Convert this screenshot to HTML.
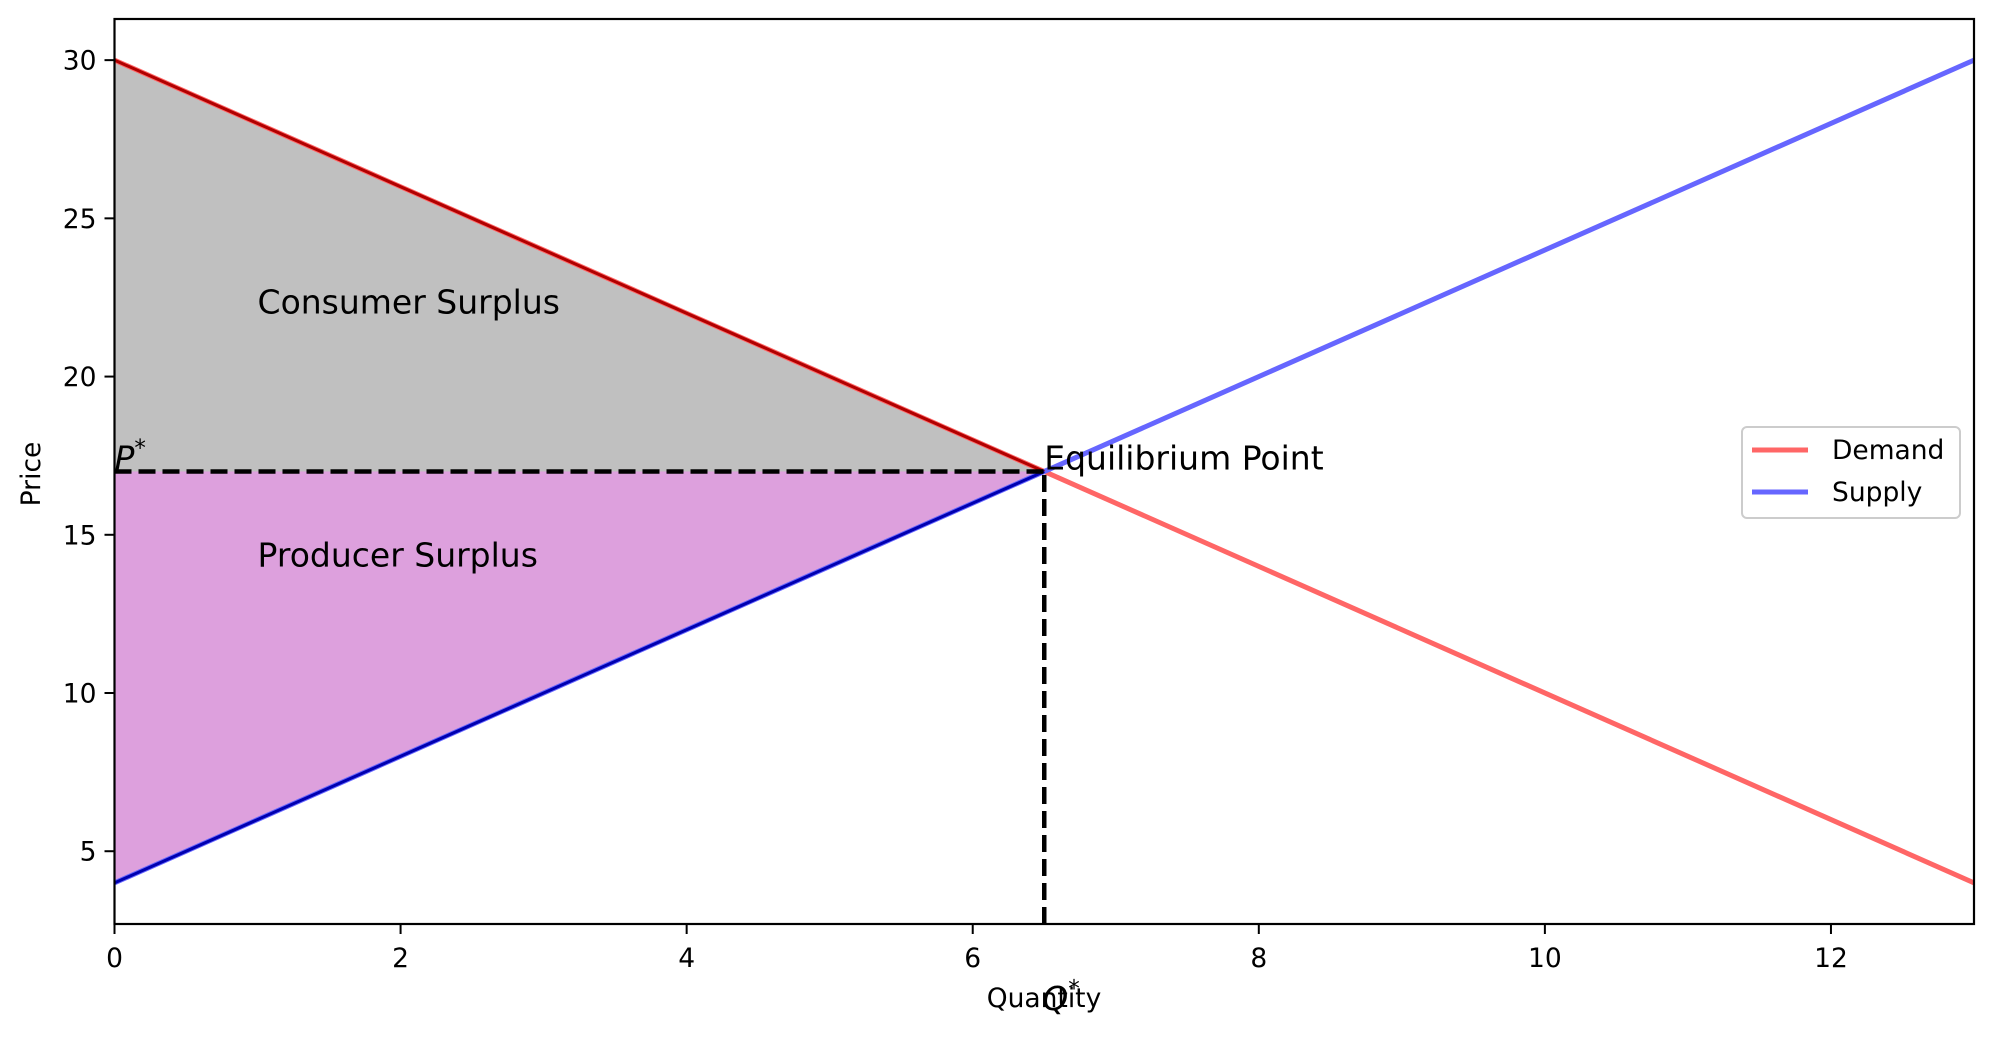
<!DOCTYPE html>
<html><head><meta charset="utf-8"><style>
body{margin:0;background:#fff}
svg{display:block;font-family:"DejaVu Sans","Liberation Sans",sans-serif}
</style></head><body>
<svg id="chart" width="1994" height="1039" xmlns="http://www.w3.org/2000/svg"></svg>
<script>
const qRange=[0,13];
const pRange=[2.7,31.3];
const demandPts=[[0,30],[13,4]];
const supplyPts=[[0,4],[13,30]];
const eqQ=6.5, eqP=17;
const xTicks=[0,2,4,6,8,10,12];
const yTicks=[5,10,15,20,25,30];
const L=114.5,R=1974,T=19,B=924;
const X=q=>L+(q-qRange[0])/(qRange[1]-qRange[0])*(R-L);
const Y=p=>B-(p-pRange[0])/(pRange[1]-pRange[0])*(B-T);
const NS='http://www.w3.org/2000/svg';
const svg=document.getElementById('chart');
function mk(tag,attrs,name,parent){const e=document.createElementNS(NS,tag);for(const k in attrs)e.setAttribute(k,attrs[k]);


(parent||svg).appendChild(e);return e;}
const dAt=q=>demandPts[0][1]+(demandPts[1][1]-demandPts[0][1])*(q-demandPts[0][0])/(demandPts[1][0]-demandPts[0][0]);
const sAt=q=>supplyPts[0][1]+(supplyPts[1][1]-supplyPts[0][1])*(q-supplyPts[0][0])/(supplyPts[1][0]-supplyPts[0][0]);
mk('polygon',{points:`${X(0)},${Y(dAt(0))} ${X(eqQ)},${Y(eqP)} ${X(0)},${Y(eqP)}`,fill:'#c0c0c0'},'consumer-surplus-area');
mk('polygon',{points:`${X(0)},${Y(eqP)} ${X(eqQ)},${Y(eqP)} ${X(0)},${Y(sAt(0))}`,fill:'#dda0dd'},'producer-surplus-area');
mk('line',{x1:X(demandPts[0][0]),y1:Y(demandPts[0][1]),x2:X(demandPts[1][0]),y2:Y(demandPts[1][1]),stroke:'#ff6666','stroke-width':5},'demand-line');
mk('line',{x1:X(supplyPts[0][0]),y1:Y(supplyPts[0][1]),x2:X(supplyPts[1][0]),y2:Y(supplyPts[1][1]),stroke:'#6666ff','stroke-width':5},'supply-line');
mk('line',{x1:X(0),y1:Y(dAt(0)),x2:X(eqQ),y2:Y(eqP),stroke:'#b00000','stroke-width':3},'demand-area-edge');
mk('line',{x1:X(0),y1:Y(sAt(0)),x2:X(eqQ),y2:Y(eqP),stroke:'#0000b0','stroke-width':3},'supply-area-edge');
mk('line',{x1:X(0),y1:Y(eqP),x2:X(eqQ),y2:Y(eqP),stroke:'#000','stroke-width':4.5,'stroke-dasharray':'17 7'},'equilibrium-price-line');
mk('line',{x1:X(eqQ),y1:Y(pRange[0]),x2:X(eqQ),y2:Y(eqP),stroke:'#000','stroke-width':4.5,'stroke-dasharray':'17 7'},'equilibrium-quantity-line');
mk('rect',{x:L,y:T,width:R-L,height:B-T,fill:'none',stroke:'#000','stroke-width':2.2},'plot-frame');
xTicks.forEach(t=>{mk('line',{x1:X(t),y1:B,x2:X(t),y2:B+10,stroke:'#000','stroke-width':2},'x-tick');
const tx=mk('text',{x:X(t),y:B+43,'font-size':26.5,'text-anchor':'middle'},'x-tick-label');tx.textContent=t;});
yTicks.forEach(t=>{mk('line',{x1:L-10,y1:Y(t),x2:L,y2:Y(t),stroke:'#000','stroke-width':2},'y-tick');
const tx=mk('text',{x:L-18,y:Y(t)+9.5,'font-size':26.5,'text-anchor':'end'},'y-tick-label');tx.textContent=t;});
function txt(x,y,s,size,name,anchor,extra){const e=mk('text',Object.assign({x,y,'font-size':size,'text-anchor':anchor||'start'},extra||{}),name);e.textContent=s;return e;}
txt(1044,1007,'Quantity',26.5,'x-axis-title','middle');
txt(40,474,'Price',26.5,'y-axis-title','middle',{transform:'rotate(-90 40 474)'});
txt(X(1),Y(22)+0,'Consumer Surplus',33,'consumer-surplus-label');
txt(X(1),Y(14)+0,'Producer Surplus',33,'producer-surplus-label');
txt(X(eqQ),Y(eqP)-2,'Equilibrium Point',33,'equilibrium-point-label');
const p=txt(X(0),Y(eqP)-2,'P',33,'p-star-label',null,{'font-style':'italic'});
const ps=mk('tspan',{dy:-14,'font-size':23},'p-star-superscript',p);ps.textContent='*';
const q=txt(X(eqQ)-2,1010,'Q',33,'q-star-label',null,{'font-style':'italic'});
const qs=mk('tspan',{dy:-14,'font-size':23},'q-star-superscript',q);qs.textContent='*';
const lg=mk('g',{},'legend');
mk('rect',{x:1742,y:427,width:218,height:91,rx:5,fill:'#fff',stroke:'#ccc','stroke-width':2},'legend-box',lg);
mk('line',{x1:1752,y1:450,x2:1808,y2:450,stroke:'#ff6666','stroke-width':5},'legend-demand-swatch',lg);
txt(1832,459,'Demand',26.5,'legend-demand-label');
mk('line',{x1:1752,y1:492,x2:1808,y2:492,stroke:'#6666ff','stroke-width':5},'legend-supply-swatch',lg);
txt(1832,501,'Supply',26.5,'legend-supply-label');
</script>
</body></html>
